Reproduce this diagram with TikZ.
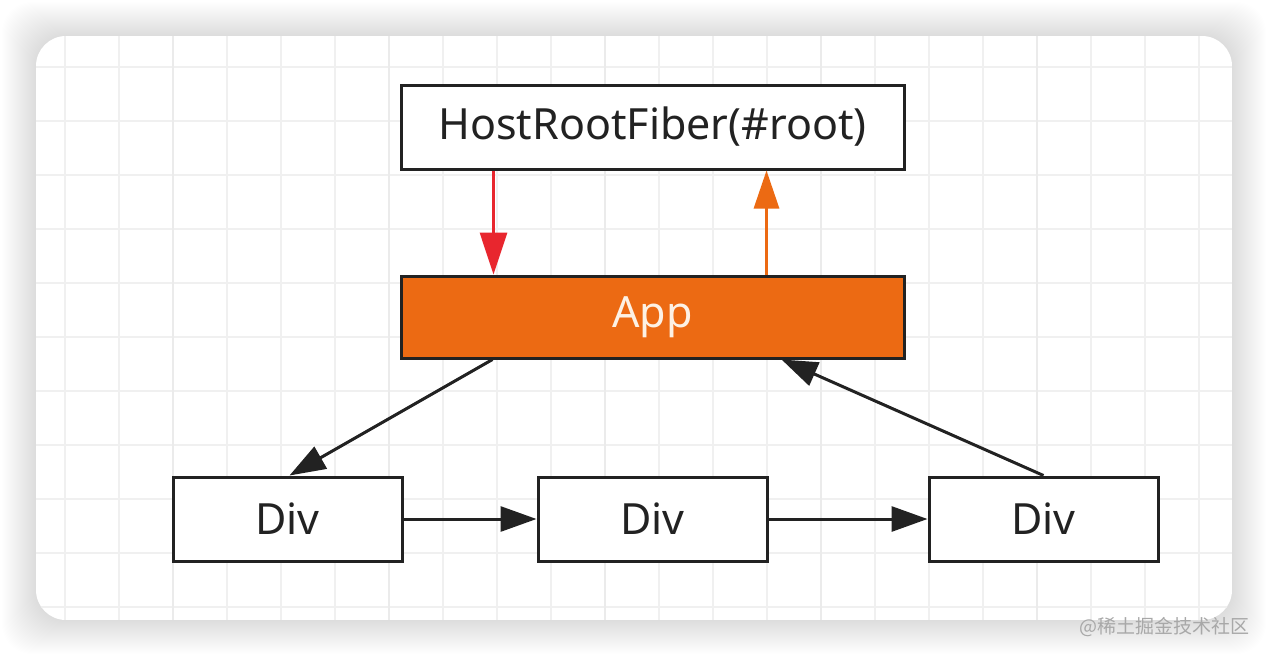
\documentclass[tikz,border=0pt]{standalone}
\usepackage{fontspec}
\setmainfont{Noto Sans}
\newfontfamily\cjkfont{Noto Sans CJK SC}
\usetikzlibrary{arrows.meta,calc}
\definecolor{gridc}{HTML}{F0F0F0}
\definecolor{gridd}{HTML}{EBEBEB}
\definecolor{boxline}{HTML}{222222}
\definecolor{apporange}{HTML}{EC6A13}
\definecolor{redarrow}{HTML}{E8262E}
\definecolor{apptext}{HTML}{FDF1E4}
\definecolor{wmark}{HTML}{A8A8A8}
\tikzset{
  fiberbox/.style={draw=boxline, line width=3pt, fill=white, minimum width=503pt, minimum height=84pt, inner sep=0pt, font=\fontsize{43}{50}\selectfont, text=boxline},
  divbox/.style={draw=boxline, line width=3pt, fill=white, minimum width=229pt, minimum height=84pt, inner sep=0pt, font=\fontsize{43}{50}\selectfont, text=boxline},
  appbox/.style={draw=boxline, line width=3pt, fill=apporange, minimum width=503pt, minimum height=82pt, inner sep=0pt, font=\fontsize{43}{50}\selectfont, text=apptext},
  blackarrow/.style={draw=boxline, line width=3pt, -{Triangle[length=36pt,width=25pt]}},
  redconn/.style={draw=redarrow, line width=3pt, -{Triangle[length=42pt,width=27pt]}},
  orangeconn/.style={draw=apporange, line width=3pt, -{Triangle[length=38pt,width=25pt]}},
}
\begin{document}
\begin{tikzpicture}[x=1pt,y=-1pt]
\useasboundingbox (0,0) rectangle (1268,656);
\fill[white] (0,0) rectangle (1268,656);
% soft shadow
\foreach \i in {1,...,34}{
  \fill[black, opacity=0.0045, rounded corners=30pt] (36-\i,36-\i) rectangle (1232+\i,620+\i);
}
% card
\begin{scope}
\path[clip, rounded corners=30pt] (36,36) rectangle (1232,620);
\fill[white] (36,36) rectangle (1232,620);
\foreach \x in {65,119,...,1232}{\draw[gridc, line width=2pt] (\x,36) -- (\x,620);}
\foreach \y in {67,121,...,620}{\draw[gridc, line width=2pt] (36,\y) -- (1232,\y);}
\foreach \x in {173,389,605,821,1037}{\draw[gridd, line width=2pt] (\x,36) -- (\x,620);}
\end{scope}
% nodes
\node[fiberbox] (hrf) at (652.5,127) {HostRootFiber(\#root)};
\node[appbox] (app) at (652.5,317) {App};
\node[divbox] (d1) at (287.5,519) {Div};
\node[divbox] (d2) at (652.5,519) {Div};
\node[divbox] (d3) at (1043.5,519) {Div};
% connectors
\draw[redconn] ($(hrf.south west)+(94,0)$) -- ($(app.north west)+(94,0)$);
\draw[orangeconn] ($(app.north west)+(367,0)$) -- ($(hrf.south west)+(367,0)$);
\draw[blackarrow] ($(app.south west)+(93,0)$) -- ($(d1.north)+(2,0)$);
\draw[blackarrow] (d3.north) -- ($(app.south west)+(382,0)$);
\draw[blackarrow] (d1.east) -- (d2.west);
\draw[blackarrow] (d2.east) -- (d3.west);
% watermark
\node[anchor=east, text=wmark, font=\cjkfont\fontsize{19}{22}\selectfont, inner sep=0pt] (wm) at (1250,627) {@稀土掘金技术社区};
\end{tikzpicture}
\end{document}
